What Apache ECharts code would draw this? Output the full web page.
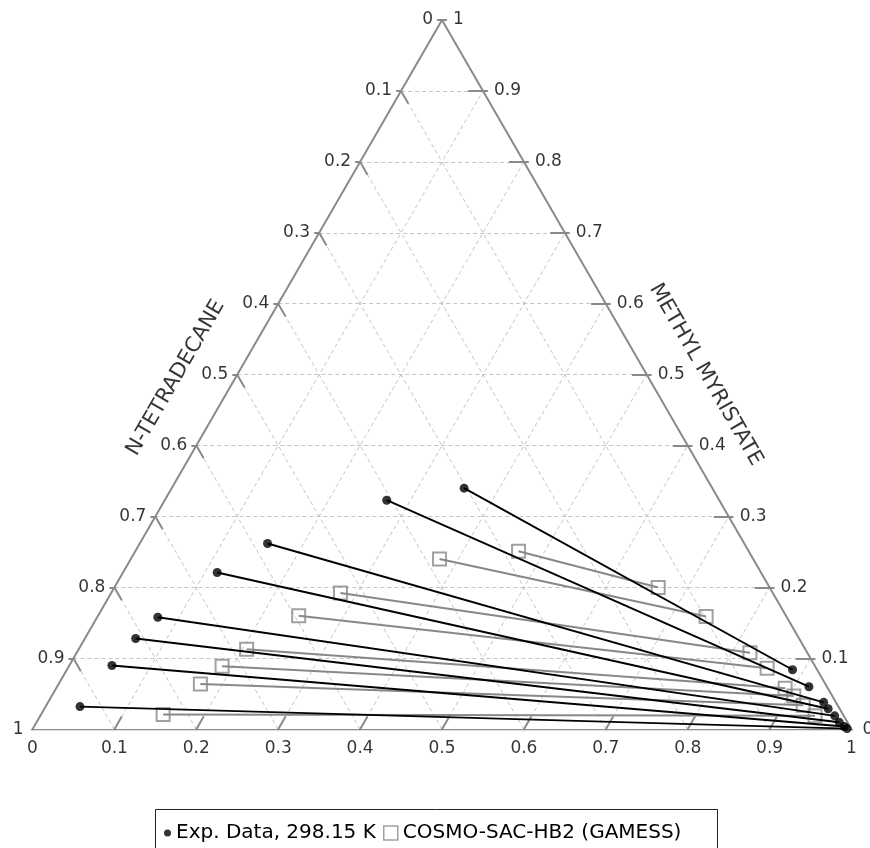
<!DOCTYPE html>
<html>
<head>
<meta charset="utf-8">
<title>Ternary LLE: G-valerolactone / n-tetradecane / methyl myristate</title>
<script src="https://cdn.jsdelivr.net/npm/echarts@6/dist/echarts.min.js"></script>
<style>
  html, body { margin: 0; padding: 0; background: #fff; }
  #chart { width: 870px; height: 848px; }
</style>
</head>
<body>
<div id="chart"></div>
<script>
// Compositions are mole fractions: G = g-valerolactone, M = methyl myristate,
// n-tetradecane is the remainder (1 - G - M).

// Tick values and labels shared by the three ternary axes
const tickValues = [0, 0.1, 0.2, 0.3, 0.4, 0.5, 0.6, 0.7, 0.8, 0.9, 1];
const tickLabels = ['0', '0.1', '0.2', '0.3', '0.4', '0.5', '0.6', '0.7', '0.8', '0.9', '1'];

// Experimental tie lines, 298.15 K: tetradecane-rich phase
const expTetraG = [0.357, 0.271, 0.156, 0.115, 0.074, 0.062, 0.052, 0.042];
const expTetraM = [0.340, 0.323, 0.262, 0.221, 0.158, 0.128, 0.090, 0.032];
// Experimental tie lines: GVL-rich phase
const expGvlG = [0.886, 0.918, 0.947, 0.957, 0.970, 0.980, 0.989, 0.994];
const expGvlM = [0.084, 0.060, 0.038, 0.029, 0.019, 0.010, 0.004, 0.001];

// COSMO-SAC-HB2 (GAMESS) predicted tie lines: tetradecane-rich phase
const cosmoTetraG = [0.468, 0.377, 0.280, 0.245, 0.205, 0.187, 0.173, 0.149];
const cosmoTetraM = [0.251, 0.240, 0.192, 0.160, 0.113, 0.089, 0.064, 0.021];
// COSMO-SAC-HB2 (GAMESS): GVL-rich phase
const cosmoGvlG = [0.664, 0.743, 0.822, 0.854, 0.890, 0.906, 0.924, 0.946];
const cosmoGvlM = [0.200, 0.159, 0.108, 0.086, 0.058, 0.047, 0.034, 0.019];

const axisNames = { bottom: 'G-VALEROLACTONE', left: 'N-TETRADECANE', right: 'METHYL MYRISTATE' };
const legendNames = { exp: 'Exp. Data, 298.15 K', model: 'COSMO-SAC-HB2 (GAMESS)' };

// Barycentric (G, M) -> cartesian plane of an equilateral triangle with unit base
const H = Math.sqrt(3) / 2;
function toXY(g, m) { return [g + m / 2, m * H]; }

const FONT = 'DejaVu Sans';
const EDGE = '#8a8a8a';

// dashed grid at every 0.1 for the three components
const gridSegs = [];
tickValues.forEach(v => {
  if (v <= 0 || v >= 1) return;
  gridSegs.push({ coords: [toXY(0, v), toXY(1 - v, v)] });      // constant M
  gridSegs.push({ coords: [toXY(v, 0), toXY(v, 1 - v)] });      // constant G
  gridSegs.push({ coords: [toXY(1 - v, 0), toXY(0, 1 - v)] });  // constant tetradecane
});

// triangle outline
const edgeSegs = [
  { coords: [toXY(0, 0), toXY(1, 0)] },
  { coords: [toXY(1, 0), toXY(0, 1)] },
  { coords: [toXY(0, 1), toXY(0, 0)] }
];

// tick marks: short outward stub plus an inward mark along the grid direction
const IN = 0.018, OUT = 0.006;
const tickSegs = [];
tickValues.forEach(v => {
  // left axis (tetradecane), value v -> point G = 0, M = 1 - v
  const pl = toXY(0, 1 - v);
  tickSegs.push({ coords: [pl, [pl[0] - OUT, pl[1]]] });
  // right axis (methyl myristate), value v -> point G = 1 - v, M = v
  const pr = toXY(1 - v, v);
  tickSegs.push({ coords: [pr, [pr[0] + OUT, pr[1]]] });
  // bottom axis (GVL), value v -> point G = v, M = 0
  const pb = toXY(v, 0);
  tickSegs.push({ coords: [pb, [pb[0], pb[1] - OUT]] });
  if (v > 0 && v < 1) {
    tickSegs.push({ coords: [pl, toXY(IN, 1 - v - IN)] });
    tickSegs.push({ coords: [pr, toXY(1 - v - IN, v)] });
    tickSegs.push({ coords: [pb, toXY(v, IN)] });
  }
});

function tieLines(g1, m1, g2, m2) {
  return g1.map((g, i) => ({ coords: [toXY(g, m1[i]), toXY(g2[i], m2[i])] }));
}
function points(g1, m1, g2, m2) {
  return g1.map((g, i) => toXY(g, m1[i])).concat(g2.map((g, i) => toXY(g, m2[i])));
}

function labelSeries(pointFn, position, distance) {
  return {
    type: 'scatter', silent: true, symbolSize: 0, z: 8,
    data: tickValues.map((v, i) => ({ name: tickLabels[i], value: pointFn(v) })),
    label: {
      show: true, position: position, distance: distance, formatter: '{b}',
      fontFamily: FONT, fontSize: 17, color: '#000'
    }
  };
}

function titleSeries(text, pos, rotate) {
  return {
    type: 'scatter', silent: true, symbolSize: 0, z: 8,
    data: [{ name: text, value: pos }],
    label: {
      show: true, position: 'inside', formatter: '{b}', rotate: rotate,
      align: 'center', verticalAlign: 'middle',
      fontFamily: FONT, fontSize: 21, color: '#000',
      textBorderWidth: 0
    }
  };
}

const chart = echarts.init(document.getElementById('chart'), null, { renderer: 'canvas' });

chart.setOption({
  animation: false,
  backgroundColor: '#fff',
  grid: { left: 32.5, right: 18.5, top: 20, bottom: 118.7 },
  xAxis: { type: 'value', min: 0, max: 1, show: false },
  yAxis: { type: 'value', min: 0, max: H, show: false },
  legend: [
    {
      data: [{ name: legendNames.exp, icon: 'circle' }],
      left: 159, top: 818, itemWidth: 7, itemHeight: 7, selectedMode: false,
      textStyle: { fontFamily: FONT, fontSize: 20, color: '#000' }
    },
    {
      data: [{ name: legendNames.model, icon: 'rect',
               itemStyle: { color: 'rgba(0,0,0,0)', borderColor: '#888', borderWidth: 1.5 } }],
      left: 378, top: 818, itemWidth: 14, itemHeight: 14, selectedMode: false,
      textStyle: { fontFamily: FONT, fontSize: 20, color: '#000' }
    }
  ],
  graphic: [{
    type: 'rect', z: 0, silent: true,
    shape: { x: 155.5, y: 809.5, width: 562, height: 50 },
    style: { fill: '#fff', stroke: '#222', lineWidth: 1 }
  }],
  series: [
    {
      type: 'lines', coordinateSystem: 'cartesian2d', silent: true, z: 1,
      data: gridSegs,
      lineStyle: { color: '#c4c4c4', width: 1, type: [4, 3], opacity: 1 }
    },
    {
      type: 'lines', coordinateSystem: 'cartesian2d', silent: true, z: 2,
      data: edgeSegs,
      lineStyle: { color: EDGE, width: 2, opacity: 1 }
    },
    {
      type: 'lines', coordinateSystem: 'cartesian2d', silent: true, z: 2,
      data: tickSegs,
      lineStyle: { color: EDGE, width: 2, opacity: 1 }
    },
    {
      type: 'lines', coordinateSystem: 'cartesian2d', silent: true, z: 3,
      data: tieLines(cosmoTetraG, cosmoTetraM, cosmoGvlG, cosmoGvlM),
      lineStyle: { color: '#888', width: 2, opacity: 1 }
    },
    {
      name: legendNames.model, type: 'scatter', silent: true, z: 4,
      symbol: 'rect', symbolSize: 13,
      data: points(cosmoTetraG, cosmoTetraM, cosmoGvlG, cosmoGvlM),
      itemStyle: { color: 'rgba(0,0,0,0)', borderColor: '#888', borderWidth: 2 }
    },
    {
      type: 'lines', coordinateSystem: 'cartesian2d', silent: true, z: 5,
      data: tieLines(expTetraG, expTetraM, expGvlG, expGvlM),
      lineStyle: { color: '#000', width: 1.9, opacity: 1 }
    },
    {
      name: legendNames.exp, type: 'scatter', silent: true, z: 6,
      symbol: 'circle', symbolSize: 9,
      data: points(expTetraG, expTetraM, expGvlG, expGvlM),
      itemStyle: { color: '#000' }
    },
    labelSeries(v => toXY(0, 1 - v), 'left', 9),
    labelSeries(v => toXY(1 - v, v), 'right', 11),
    labelSeries(v => toXY(v, 0), 'bottom', 11),
    titleSeries(axisNames.bottom, [0.5, -0.063], 0),
    titleSeries(axisNames.left, [0.175, 0.429], 60),
    titleSeries(axisNames.right, [0.822, 0.433], -60)
  ]
});
</script>
</body>
</html>
